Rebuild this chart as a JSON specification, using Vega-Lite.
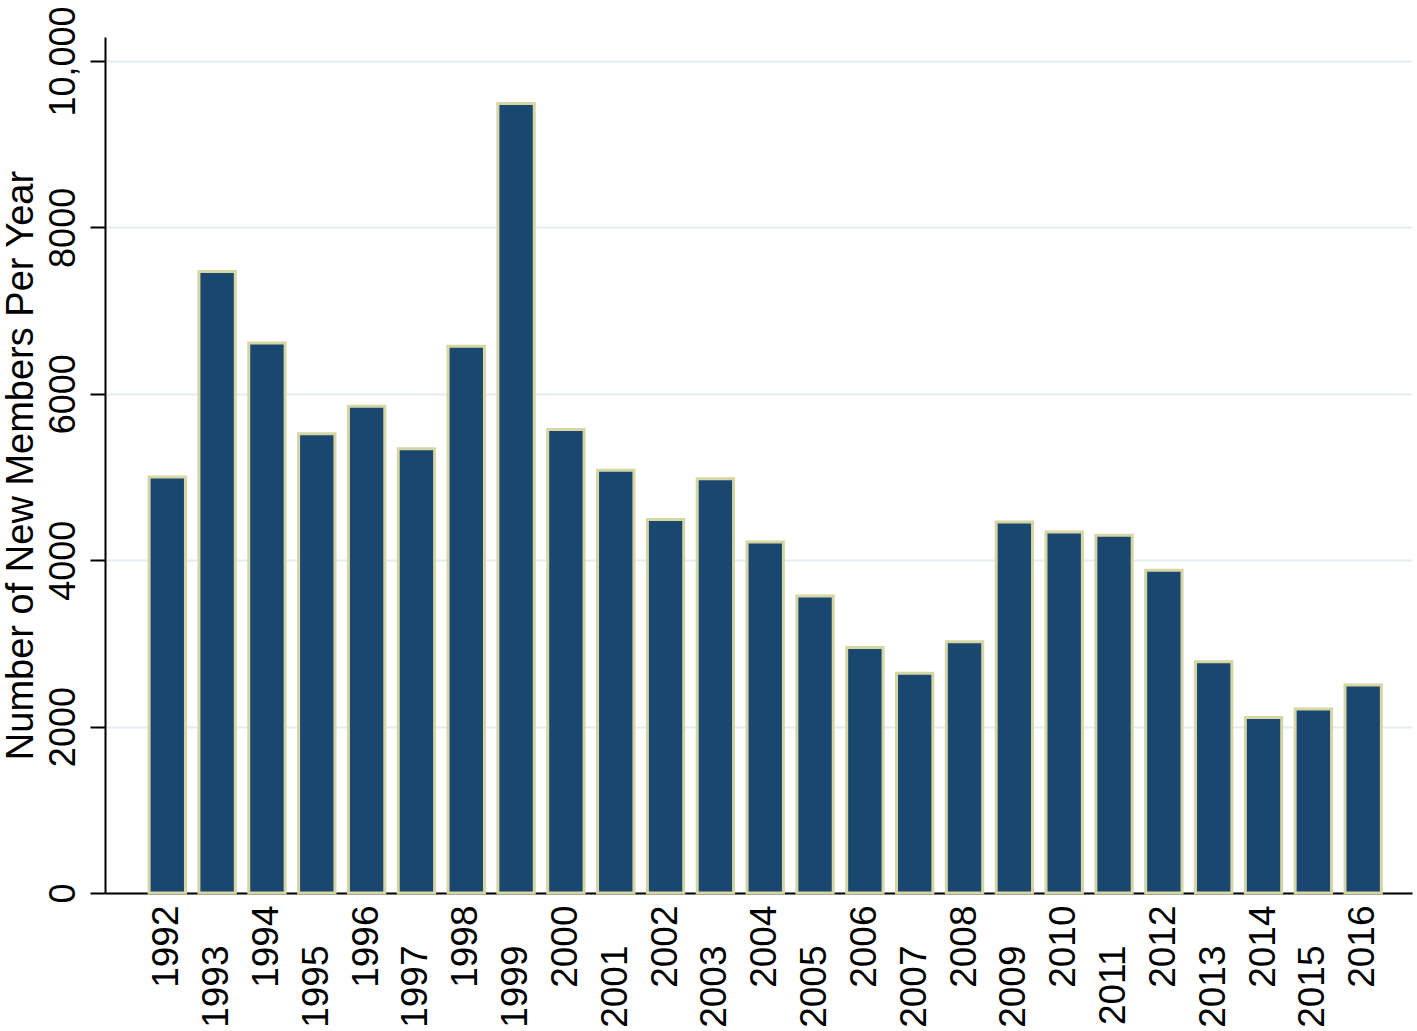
{
  "$schema": "https://vega.github.io/schema/vega-lite/v6.json",
  "width": 1307,
  "height": 856,
  "autosize": {"type": "none"},
  "padding": {"left": 105, "top": 37, "right": 5, "bottom": 138},
  "background": "white",
  "config": {
    "view": {"stroke": null},
    "font": "Liberation Sans",
    "axisX": {
      "title": null,
      "labelAngle": 270,
      "labelAlign": "right",
      "labelBaseline": "middle",
      "labelFontSize": 37,
      "labelColor": "black",
      "labelOverlap": false,
      "ticks": false,
      "domainColor": "black",
      "domainWidth": 2
    }
  },
  "data": {"values": [
    {"year": 1992, "members": 5000},
    {"year": 1993, "members": 7470},
    {"year": 1994, "members": 6610},
    {"year": 1995, "members": 5520},
    {"year": 1996, "members": 5850},
    {"year": 1997, "members": 5340},
    {"year": 1998, "members": 6570},
    {"year": 1999, "members": 9490},
    {"year": 2000, "members": 5570},
    {"year": 2001, "members": 5080},
    {"year": 2002, "members": 4490},
    {"year": 2003, "members": 4980},
    {"year": 2004, "members": 4220},
    {"year": 2005, "members": 3570},
    {"year": 2006, "members": 2950},
    {"year": 2007, "members": 2640},
    {"year": 2008, "members": 3020},
    {"year": 2009, "members": 4460},
    {"year": 2010, "members": 4340},
    {"year": 2011, "members": 4300},
    {"year": 2012, "members": 3880},
    {"year": 2013, "members": 2780},
    {"year": 2014, "members": 2110},
    {"year": 2015, "members": 2210},
    {"year": 2016, "members": 2500}
  ]},
  "encoding": {
    "y": {
      "field": "members",
      "type": "quantitative",
      "scale": {"domain": [0, 10288], "nice": false},
      "axis": {
        "title": "Number of New Members Per Year",
        "values": [0, 2000, 4000, 6000, 8000, 10000],
        "labelExpr": "datum.value == 10000 ? '10,000' : '' + datum.value",
        "labelAngle": 270,
        "labelAlign": "center",
        "labelBaseline": "bottom",
        "labelFontSize": 36,
        "labelColor": "black",
        "labelPadding": 8,
        "labelOverlap": false,
        "tickSize": 15,
        "tickColor": "black",
        "tickWidth": 2,
        "domainColor": "black",
        "domainWidth": 2,
        "grid": true,
        "gridColor": "#e4eef2",
        "gridWidth": 2,
        "titleFontSize": 38,
        "titleFontWeight": "normal",
        "titleColor": "black",
        "titleAngle": 270,
        "titleX": -84,
        "titleY": 428,
        "titleAlign": "center",
        "titleBaseline": "middle"
      }
    }
  },
  "layer": [
    {
      "mark": {"type": "bar", "fill": "#1a476f", "stroke": "#d6d6a4", "strokeWidth": 3},
      "encoding": {
        "x": {
          "field": "year",
          "type": "ordinal",
          "scale": {"paddingInner": 0.27, "paddingOuter": 0.75, "align": 0.59},
          "axis": {
            "orient": "bottom",
            "labelPadding": 12,
            "labelExpr": "datum.value % 2 == 0 ? datum.label : ''"
          }
        }
      }
    },
    {
      "mark": {"type": "bar", "fillOpacity": 0, "strokeOpacity": 0},
      "encoding": {
        "x": {
          "field": "year",
          "type": "ordinal",
          "axis": {
            "orient": "bottom",
            "labelPadding": 52,
            "domain": false,
            "labelExpr": "datum.value % 2 == 1 ? datum.label : ''"
          }
        }
      }
    }
  ],
  "resolve": {"axis": {"x": "independent"}}
}
